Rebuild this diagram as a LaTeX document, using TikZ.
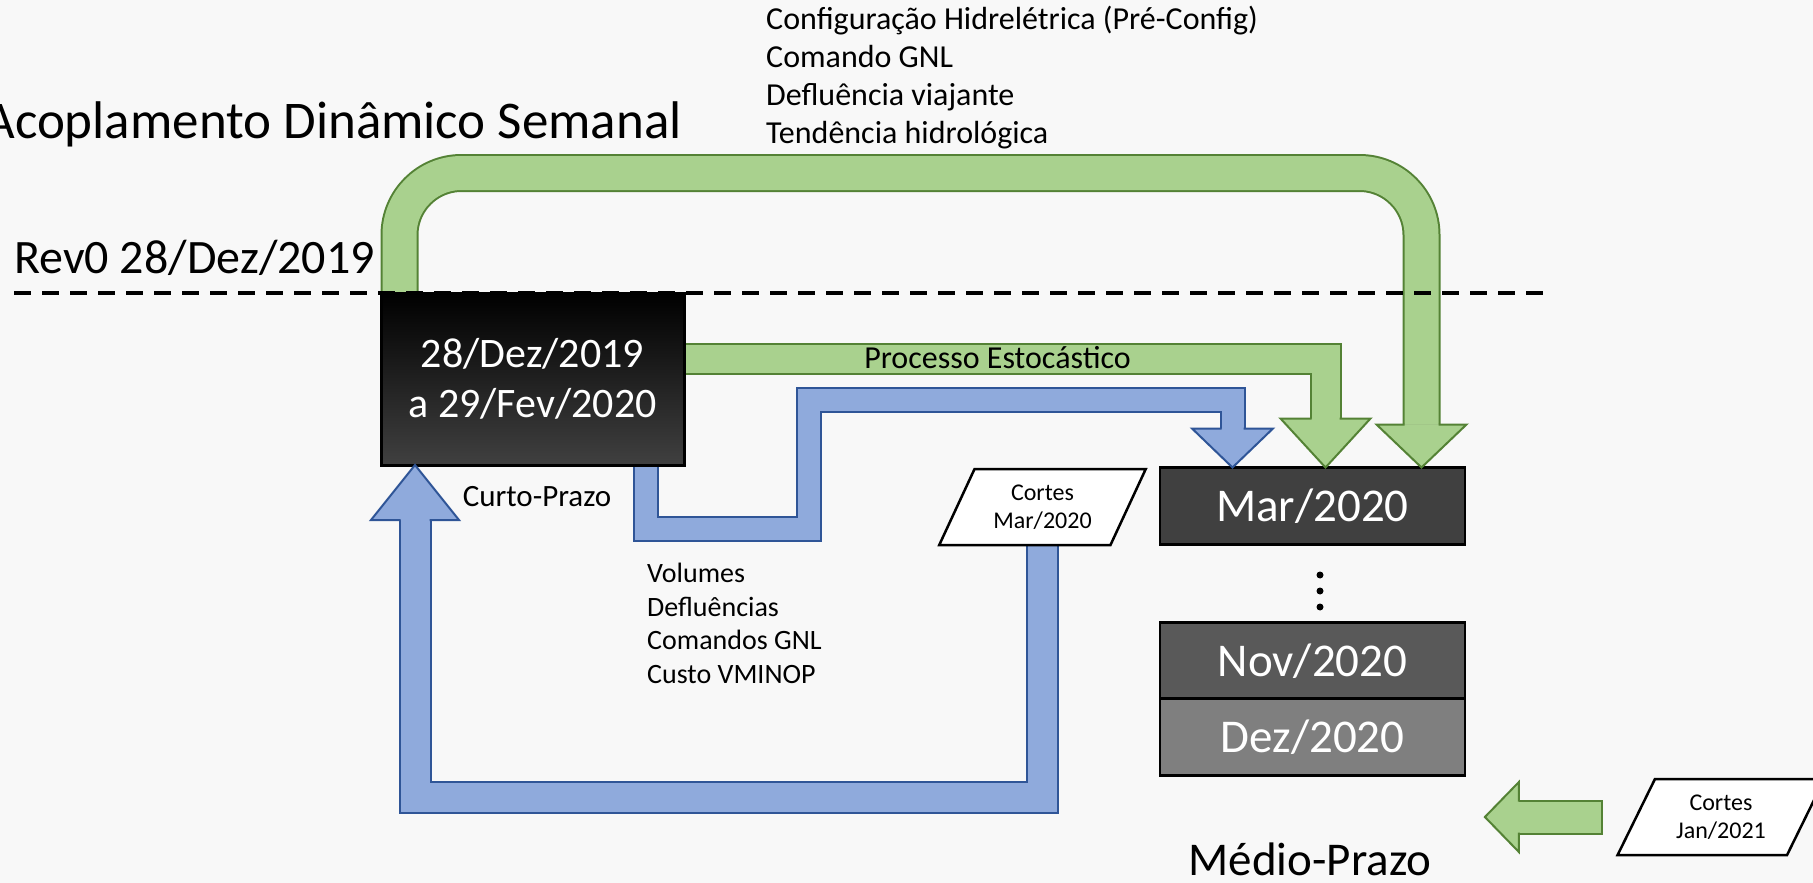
\documentclass[tikz,border=0pt]{standalone}
\usepackage{fontspec}
\setmainfont{Carlito}
\usetikzlibrary{positioning, shapes.geometric, backgrounds}

\definecolor{gfill}{HTML}{A9D18E}
\definecolor{gline}{HTML}{548235}
\definecolor{bfill}{HTML}{8FAADC}
\definecolor{bline}{HTML}{2F5597}
\definecolor{slide}{HTML}{F8F8F8}
\definecolor{mes1}{HTML}{404040}
\definecolor{mes2}{HTML}{595959}
\definecolor{mes3}{HTML}{7F7F7F}

\begin{document}
\begin{tikzpicture}[
	% one unit is one pixel of the slide, y going down
	x=1pt, y=-1pt,
	% plain text labels
	txt/.style={
		inner sep=0pt,
		font=\fontsize{32}{38}\selectfont
	},
	bigtxt/.style={
		inner sep=0pt,
		font=\fontsize{47}{56}\selectfont
	},
	% the short-term study
	stbox/.style={
		rectangle,
		draw=black,
		line width=3pt,
		outer sep=0pt,
		top color=black,
		bottom color=mes1,
		text=white,
		align=center,
		minimum width=303pt,
		minimum height=172pt,
		font=\fontsize{42}{50}\selectfont
	},
	% months of the medium-term study
	month/.style={
		rectangle,
		draw=black,
		line width=2.5pt,
		outer sep=0pt,
		text=white,
		minimum width=305pt,
		minimum height=77pt,
		font=\fontsize{47}{56}\selectfont
	},
	% future cost cuts
	cortes/.style={
		trapezium,
		trapezium left angle=62,
		trapezium right angle=118,
		trapezium stretches=true,
		draw=black,
		line width=2.5pt,
		fill=white,
		align=center,
		minimum width=207pt,
		minimum height=76pt,
		font=\fontsize{24}{28}\selectfont
	},
	% block arrows
	gbar/.style={draw=gline, line width=2pt, double=gfill, double distance=#1},
	bbar/.style={draw=bline, line width=2pt, double=bfill, double distance=#1},
	ghead/.style={fill=gfill, draw=gline, line width=2pt},
	bhead/.style={fill=bfill, draw=bline, line width=2pt},
	pics/blockhead/.style n args={4}{code={
		\filldraw[#4] (-#3,-#2) -- (-#1,-#2) -- (0,0) -- (#1,-#2) -- (#3,-#2);
	}}
	]
	\useasboundingbox (0,0) rectangle (1813,883);
	
	% titles
	\node[txt, anchor=base east, font=\fontsize{53}{62}\selectfont] (title) at (682,138) {Acoplamento Dinâmico Semanal};
	\node[bigtxt, anchor=base west, font=\fontsize{48}{56}\selectfont] (rev) at (14,273) {Rev0 28/Dez/2019};
	\node[txt, anchor=base west, align=left] (vars) at (766,143) {Configuração Hidrelétrica (Pré-Config)\\Comando GNL\\Defluência viajante\\Tendência hidrológica};
	
	% short-term
	\node[stbox] (stb) at (532.5,379) {28/Dez/2019\\a 29/Fev/2020};
	\node[txt, anchor=base, font=\fontsize{31}{37}\selectfont] (cp) at (537,506) {Curto-Prazo};
	\node[txt, anchor=base west, align=left, font=\fontsize{28}{33.5}\selectfont] (res) at (647,683) {Volumes\\Defluências\\Comandos GNL\\Custo VMINOP};
	\node[txt, anchor=base] (pe) at (997.5,368) {Processo Estocástico};
	
	% medium-term
	\node[month, fill=mes1] (mar) at (1312.5,506) {Mar/2020};
	\node[month, fill=mes2] (nov) at (1312.5,661) {Nov/2020};
	\node[month, fill=mes3] (dez) at (1312.5,737) {Dez/2020};
	\foreach \y in {575,591,607}{
		\fill (1320,\y) circle (3.5pt);
	}
	\node[bigtxt, anchor=base] (mp) at (1310,875) {Médio-Prazo};
	
	\node[cortes] (cm) at (1042.5,507) {Cortes\\Mar/2020};
	\node[cortes] (cj) at (1721,817) {Cortes\\Jan/2021};
	
	% arrow tips on the boxes
	\coordinate (m1) at ([xshift=-80pt]mar.north);
	\coordinate (m2) at ([xshift=13pt]mar.north);
	\coordinate (m3) at ([xshift=109pt]mar.north);
	\coordinate (s1) at ([xshift=34pt]stb.south west);
	\coordinate (jt) at ([xshift=-150pt]cj.west);
	
	\begin{scope}[on background layer]
		\fill[slide] (0,0) rectangle (1813,883);
		% shafts
		\draw[gbar=34pt, rounded corners=62pt] ([xshift=18.5pt]stb.north west) -- ++(0,-120) -| ([yshift=43pt]m3);
		\draw[gbar=28pt] ([yshift=20pt]stb.east) -| ([yshift=49pt]m2);
		\draw[bbar=22pt] ([xshift=113pt]stb.south) -- ++(0,64) -- ++(163.5,0) -- ++(0,-129.5) -| ([yshift=39pt]m1);
		\draw[bbar=29pt] (cm.south) -- ++(0,251.5) -| ([yshift=-55pt]s1);
		\draw[gbar=31pt, line cap=rect] ([xshift=-49.5pt]cj.west) -- ([xshift=34pt]jt);
	\end{scope}
	
	% heads
	\pic at (m3) {blockhead={45}{43}{17}{ghead}};
	\pic at (m2) {blockhead={45}{49}{14}{ghead}};
	\pic at (m1) {blockhead={40.5}{39}{11}{bhead}};
	\pic[rotate=180] at (s1) {blockhead={44}{55}{14.5}{bhead}};
	\pic[rotate=-90] at (jt) {blockhead={35}{34}{15.5}{ghead}};
	
	% revision line
	\draw[line width=4pt, dash pattern=on 17pt off 11pt] (14,293) -- (1543,293);
	
\end{tikzpicture}
\end{document}
